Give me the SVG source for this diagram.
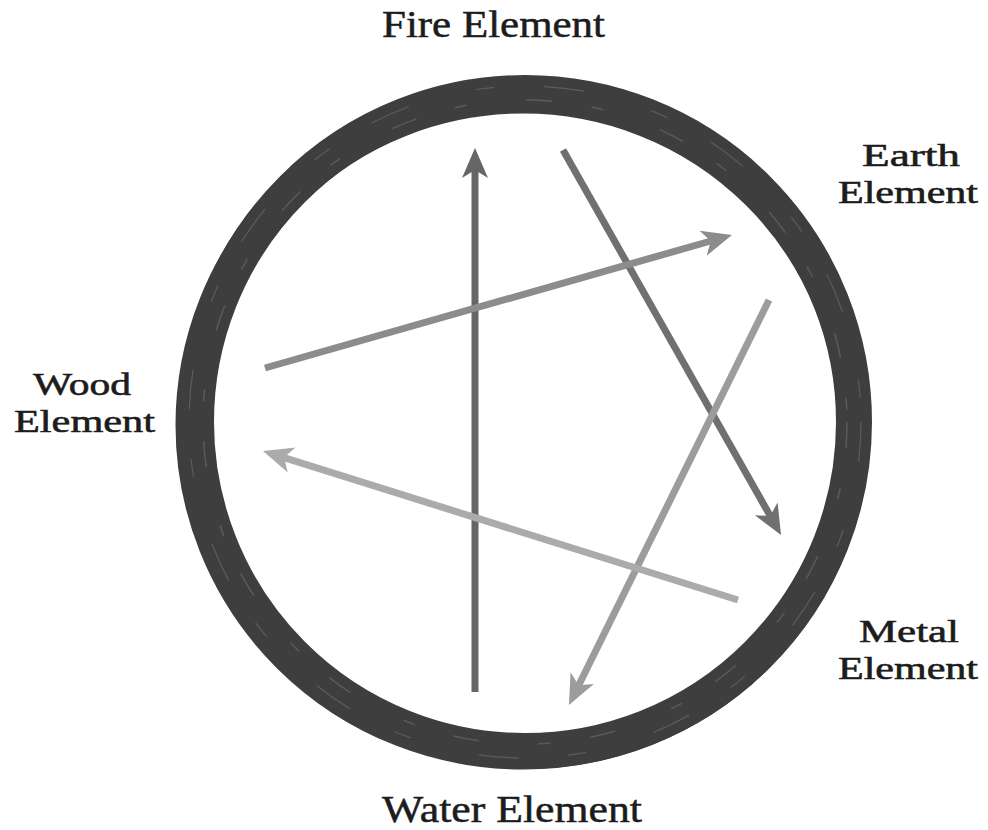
<svg xmlns="http://www.w3.org/2000/svg" width="988" height="830" viewBox="0 0 988 830">
<style>
.lbl{font-family:"Liberation Serif","DejaVu Serif",serif;font-size:37px;fill:#1c1c1c;stroke:#1c1c1c;stroke-width:0.5;}
.lbl2{font-family:"Liberation Serif","DejaVu Serif",serif;font-size:32px;fill:#1c1c1c;stroke:#1c1c1c;stroke-width:0.6;}
.arr{fill:none;stroke-width:7;stroke-linecap:butt;}
</style>
<defs>
<marker id="h1" viewBox="-32 -15 34 30" refX="-22" refY="0" markerWidth="34" markerHeight="30" markerUnits="userSpaceOnUse" orient="auto"><path d="M0,0 L-30,-13 L-22,0 L-30,13 Z" fill="#666666"/></marker>
<marker id="h2" viewBox="-32 -15 34 30" refX="-22" refY="0" markerWidth="34" markerHeight="30" markerUnits="userSpaceOnUse" orient="auto"><path d="M0,0 L-30,-13 L-22,0 L-30,13 Z" fill="#707070"/></marker>
<marker id="h3" viewBox="-32 -15 34 30" refX="-22" refY="0" markerWidth="34" markerHeight="30" markerUnits="userSpaceOnUse" orient="auto"><path d="M0,0 L-30,-13 L-22,0 L-30,13 Z" fill="#8c8c8c"/></marker>
<marker id="h4" viewBox="-32 -15 34 30" refX="-22" refY="0" markerWidth="34" markerHeight="30" markerUnits="userSpaceOnUse" orient="auto"><path d="M0,0 L-30,-13 L-22,0 L-30,13 Z" fill="#9c9c9c"/></marker>
<marker id="h5" viewBox="-32 -15 34 30" refX="-22" refY="0" markerWidth="34" markerHeight="30" markerUnits="userSpaceOnUse" orient="auto"><path d="M0,0 L-30,-13 L-22,0 L-30,13 Z" fill="#ababab"/></marker>
</defs>
<rect width="988" height="830" fill="#ffffff"/>
<g id="ring">
<circle cx="525" cy="422" r="329" fill="none" stroke="#3e3e3e" stroke-width="36"/>
<ellipse cx="523" cy="425" rx="331" ry="328" fill="none" stroke="#3e3e3e" stroke-width="33"/>
<circle cx="525" cy="422" r="322" fill="none" stroke="#5a5a5a" stroke-width="1.5" stroke-dasharray="26 40 12 60"/>
<circle cx="525" cy="422" r="336" fill="none" stroke="#5c5c5c" stroke-width="1.2" stroke-dasharray="40 70 18 50"/>
</g>
<g id="connectors">
<line class="arr" x1="475" y1="692" x2="475" y2="170" stroke="#666666" marker-end="url(#h1)"/>
<line class="arr" x1="563" y1="150" x2="770.2" y2="515.9" stroke="#707070" marker-end="url(#h2)"/>
<line class="arr" x1="265" y1="368" x2="710.8" y2="241" stroke="#8c8c8c" marker-end="url(#h3)"/>
<line class="arr" x1="769" y1="300" x2="578.7" y2="685.3" stroke="#9c9c9c" marker-end="url(#h4)"/>
<line class="arr" x1="738" y1="600" x2="284" y2="457.6" stroke="#ababab" marker-end="url(#h5)"/>
</g>
<g id="fire"><text class="lbl" x="382" y="37" textLength="223" lengthAdjust="spacingAndGlyphs">Fire Element</text></g>
<g id="earth"><text class="lbl2" x="862" y="166" textLength="98" lengthAdjust="spacingAndGlyphs">Earth</text><text class="lbl2" x="838" y="203" textLength="140" lengthAdjust="spacingAndGlyphs">Element</text></g>
<g id="wood"><text class="lbl2" x="33" y="395" textLength="98" lengthAdjust="spacingAndGlyphs">Wood</text><text class="lbl2" x="14" y="432" textLength="141" lengthAdjust="spacingAndGlyphs">Element</text></g>
<g id="metal"><text class="lbl2" x="859" y="642" textLength="100" lengthAdjust="spacingAndGlyphs">Metal</text><text class="lbl2" x="838" y="679" textLength="140" lengthAdjust="spacingAndGlyphs">Element</text></g>
<g id="water"><text class="lbl" x="382" y="822" textLength="260" lengthAdjust="spacingAndGlyphs">Water Element</text></g>
</svg>
